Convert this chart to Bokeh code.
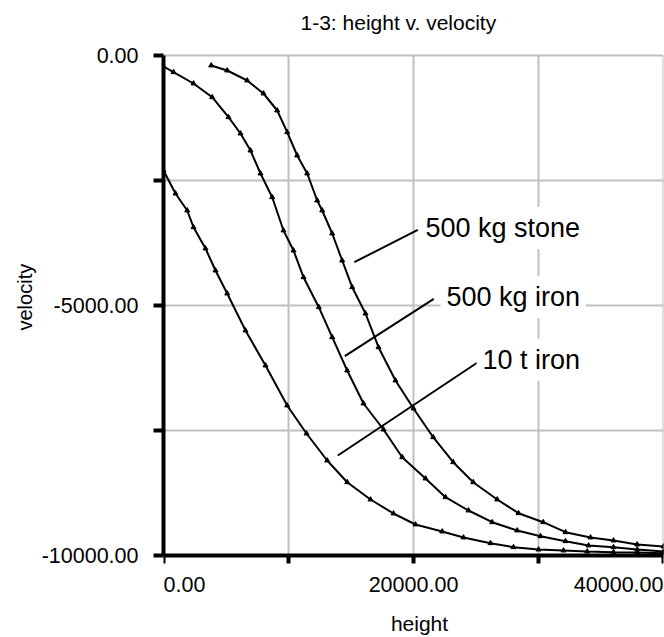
from bokeh.plotting import figure
from bokeh.models import Range1d, Label, FixedTicker, Title
from bokeh.embed import file_html
from bokeh.resources import INLINE

title_text = "1-3: height v. velocity"
x_label = "height"
y_label = "velocity"

# 500 kg stone
stone_h = [3816, 5096, 6696, 8000, 9096, 9896, 10696, 11496, 12296, 12696, 13496, 14296,
           15096, 16160, 17200, 18560, 20000, 21576, 23176, 24776, 26696, 28400, 30376,
           32160, 34160, 36000, 37896, 40000]
stone_v = [-200, -300, -500, -760, -1100, -1534, -2000, -2360, -2900, -3100, -3560, -4100,
           -4634, -5160, -5834, -6500, -7060, -7634, -8134, -8534, -8880, -9154, -9334,
           -9534, -9640, -9700, -9780, -9820]

# 500 kg iron
iron500_h = [0, 800, 2400, 3896, 5200, 6160, 6960, 7760, 8696, 9600, 10400, 11200, 12424,
             13496, 14696, 16000, 17600, 19096, 20960, 22560, 24400, 26296, 28296, 30160,
             32160, 34000, 36000, 37896, 40000]
iron500_v = [-220, -334, -560, -834, -1234, -1560, -1900, -2360, -2834, -3500, -3900, -4434,
             -5034, -5634, -6300, -6960, -7480, -8034, -8460, -8834, -9100, -9334, -9500,
             -9614, -9714, -9800, -9834, -9880, -9920]

# 10 t iron
iron10t_h = [0, 960, 1896, 2400, 3360, 4160, 5096, 6560, 8160, 9896, 11440, 13096, 14696,
             16560, 18400, 20160, 22296, 24000, 26160, 28000, 30000, 32000, 33896, 36000,
             37896, 40000]
iron10t_v = [-2300, -2760, -3100, -3434, -3860, -4300, -4760, -5500, -6200, -7000, -7560,
             -8100, -8534, -8880, -9160, -9380, -9520, -9640, -9754, -9834, -9880, -9900,
             -9920, -9934, -9940, -9954]

x_min, x_max = 0, 40000
y_min, y_max = -10000, 0
x_ticks = [0, 10000, 20000, 30000, 40000]
x_tick_text = {0: "0.00", 20000: "20000.00", 40000: "40000.00"}
y_ticks = [0, -2500, -5000, -7500, -10000]
y_tick_text = {0: "0.00", -2500: "", -5000: "-5000.00", -7500: "", -10000: "-10000.00"}

series_names = ["500 kg stone", "500 kg iron", "10 t iron"]
name_h = [20960, 22640, 25520]
name_v = [-3450, -4834, -6086]
leader_h0 = [15264, 14504, 13944]
leader_v0 = [-4134, -6014, -8000]
leader_h1 = [20344, 21624, 25360]
leader_v1 = [-3486, -4866, -6100]

FONT = "Liberation Sans"
W, H = 664, 637
LEFT, RIGHT = 163, 1
TOP_PX, AXIS_Y_PX = 55, 555  # pixel rows of the value range ends

# the frame covers the full canvas height so texts above and below the data area stay visible
px_per_unit = (AXIS_Y_PX - TOP_PX) / (y_max - y_min)
y_end = y_max + TOP_PX / px_per_unit
y_start = y_min - (H - AXIS_Y_PX) / px_per_unit

p = figure(width=W, height=H, x_range=Range1d(x_min, x_max), y_range=Range1d(y_start, y_end),
           output_backend="svg", toolbar_location=None,
           min_border_left=LEFT, min_border_right=RIGHT, min_border_top=0, min_border_bottom=0)
p.outline_line_color = None
p.background_fill_color = "white"
p.border_fill_color = "white"

# title
p.add_layout(Label(x=x_min, y=y_max, text=title_text, text_align="left", text_baseline="middle",
                   x_offset=137, y_offset=33, text_font=FONT, text_font_size="21px",
                   text_color="black"))

# grids
p.xgrid.visible = False
p.segment(x0=x_ticks, y0=[y_min] * len(x_ticks), x1=x_ticks, y1=[y_max] * len(x_ticks),
          line_color="#c0c0c0", line_width=2, level="underlay")
p.ygrid.ticker = FixedTicker(ticks=y_ticks)
p.ygrid.grid_line_color = "#c0c0c0"
p.ygrid.grid_line_width = 2

# y axis
ya = p.yaxis[0]
ya.ticker = FixedTicker(ticks=y_ticks)
ya.bounds = (y_min, y_max)
ya.major_label_overrides = y_tick_text
ya.axis_line_width = 4
ya.axis_line_color = "black"
ya.major_tick_line_width = 4
ya.major_tick_out = 10
ya.major_tick_in = 0
ya.minor_tick_line_color = None
ya.major_label_text_font = FONT
ya.major_label_text_font_size = "21.5px"
ya.major_label_text_color = "black"
ya.major_label_standoff = 15

p.add_layout(Title(text=y_label, align="left", offset=H - 330, standoff=6, text_font=FONT,
                   text_font_style="normal", text_font_size="20px", text_color="black"), "left")

# x axis, pinned at the bottom of the value range
xa = p.xaxis[0]
xa.fixed_location = y_min
xa.ticker = FixedTicker(ticks=x_ticks)
xa.major_label_overrides = {t: "" for t in x_ticks}
xa.axis_line_width = 4
xa.axis_line_color = "black"
xa.major_tick_line_width = 4
xa.major_tick_out = 8
xa.major_tick_in = 0
xa.minor_tick_line_color = None

for t, txt in x_tick_text.items():
    align = "left" if t == x_ticks[0] else ("right" if t == x_ticks[-1] else "center")
    p.add_layout(Label(x=t, y=y_min, text=txt, text_align=align, text_baseline="middle",
                       y_offset=-29, text_font=FONT, text_font_size="21.5px", text_color="black"))
p.add_layout(Label(x=(x_min + x_max) / 2, y=y_min, text=x_label, text_align="center",
                   text_baseline="middle", x_offset=6, y_offset=-68, text_font=FONT,
                   text_font_size="21px", text_color="black"))

# curves
for hs, vs in ((stone_h, stone_v), (iron500_h, iron500_v), (iron10t_h, iron10t_v)):
    p.line(hs, vs, line_color="black", line_width=2)
    p.scatter(hs, vs, marker="triangle", size=5, color="black")

# leaders and names
p.segment(x0=leader_h0, y0=leader_v0, x1=leader_h1, y1=leader_v1, line_color="black", line_width=2)
PAD = 6
for nm, hx, vy in zip(series_names, name_h, name_v):
    p.add_layout(Label(x=hx, y=vy, text=nm, text_align="left", text_baseline="middle",
                       x_offset=-PAD, text_font=FONT, text_font_size="27px", text_color="black",
                       background_fill_color="white", padding=PAD))

open("out.html", "w").write(file_html(p, INLINE))
